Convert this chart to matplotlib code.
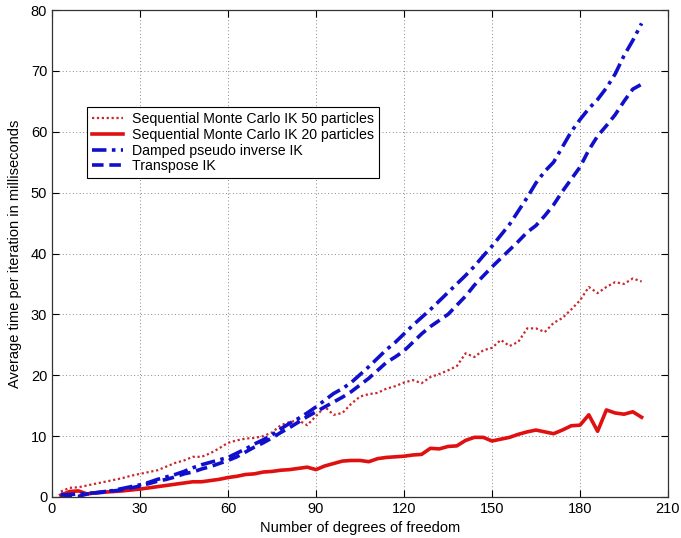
import matplotlib
matplotlib.use("Agg")
import matplotlib.pyplot as plt

plt.rcParams['font.family'] = ['Liberation Sans', 'DejaVu Sans']

dof = list(range(3, 202, 3))

smc50 = [0.9, 1.5, 1.6, 1.9, 2.2, 2.5, 2.8, 3.1, 3.5, 3.8,
         4.1, 4.4, 5.0, 5.6, 6.0, 6.6, 6.6, 7.2, 8.0, 8.9,
         9.3, 9.6, 9.7, 10.0, 10.6, 11.8, 12.3, 12.6, 11.8, 13.3,
         14.8, 13.5, 13.8, 15.3, 16.5, 16.9, 17.1, 17.8, 18.2, 18.8,
         19.2, 18.7, 19.7, 20.2, 20.8, 21.5, 23.6, 23.0, 24.1, 24.5,
         25.8, 24.8, 25.5, 27.7, 27.7, 27.1, 28.6, 29.4, 30.8, 32.3,
         34.5, 33.5, 34.5, 35.3, 35.0, 35.9, 35.4]

smc20 = [0.3, 0.9, 1.0, 0.5, 0.7, 0.8, 0.9, 1.0, 1.15, 1.3,
         1.5, 1.7, 1.9, 2.1, 2.3, 2.5, 2.5, 2.7, 2.9, 3.2,
         3.4, 3.7, 3.8, 4.1, 4.2, 4.4, 4.5, 4.7, 4.9, 4.5,
         5.1, 5.5, 5.9, 6.0, 6.0, 5.8, 6.3, 6.5, 6.6, 6.7,
         6.9, 7.0, 8.0, 7.9, 8.3, 8.4, 9.3, 9.8, 9.8, 9.2,
         9.5, 9.8, 10.3, 10.7, 11.0, 10.7, 10.4, 11.0, 11.7, 11.8,
         13.5, 10.8, 14.3, 13.8, 13.6, 14.0, 13.1]

damped = [0.3, 0.4, 0.5, 0.6, 0.7, 0.8, 1.1, 1.4, 1.7, 2.0,
          2.4, 2.9, 3.3, 3.7, 4.2, 4.8, 5.3, 5.7, 6.1, 6.5,
          7.2, 7.9, 8.7, 9.4, 10.2, 11.2, 12.1, 12.9, 13.8, 14.8,
          15.9, 17.0, 17.8, 18.8, 20.1, 21.4, 22.8, 24.2, 25.4, 26.8,
          28.2, 29.5, 30.8, 32.2, 33.6, 35.0, 36.4, 37.9, 39.6, 41.2,
          43.0, 44.8, 47.0, 49.2, 51.6, 53.5, 55.0, 57.5, 60.0, 62.0,
          63.8, 65.3, 67.2, 69.5, 72.5, 75.0, 77.8]

transpose = [0.5, 0.1, 0.1, 0.5, 0.7, 0.9, 1.0, 1.2, 1.5, 1.8,
             2.2, 2.6, 2.9, 3.3, 3.8, 4.1, 4.6, 5.0, 5.5, 6.0,
             6.6, 7.4, 8.2, 8.9, 9.7, 10.6, 11.4, 12.3, 13.2, 14.0,
             14.8, 15.6, 16.4, 17.3, 18.4, 19.5, 20.8, 22.1, 23.0, 24.0,
             25.4, 26.8, 28.0, 29.0, 30.0, 31.5, 33.0, 34.8, 36.3, 37.8,
             39.2, 40.6, 42.0, 43.5, 44.6, 46.2, 48.0, 50.2, 52.2, 54.2,
             57.0, 59.3, 61.0, 62.8, 65.0, 67.0, 67.8]

labels = ["Sequential Monte Carlo IK 50 particles",
          "Sequential Monte Carlo IK 20 particles",
          "Damped pseudo inverse IK",
          "Transpose IK"]

xticks = [0, 30, 60, 90, 120, 150, 180, 210]
yticks = [0, 10, 20, 30, 40, 50, 60, 70, 80]

fig = plt.figure(figsize=(6.81, 5.38), dpi=100)
ax = fig.add_axes([52/681, 41/538, 616/681, 487/538])

ax.plot(dof, smc50, linestyle=(0, (1, 1.2)), color='#c8282d', lw=1.6, label=labels[0])
ax.plot(dof, smc20, linestyle='-', color='#e01010', lw=2.6, label=labels[1])
ax.plot(dof, damped, linestyle=(0, (4, 1.5, 1, 1.5)), color='#1010cc', lw=2.6, label=labels[2])
ax.plot(dof, transpose, linestyle=(0, (3.2, 1.6)), color='#1010cc', lw=2.6, label=labels[3])

ax.set_xlim(0, 210)
ax.set_ylim(0, 80)
ax.set_xticks(xticks)
ax.set_yticks(yticks)
ax.tick_params(direction='in', top=True, right=True, labelsize=10.5, length=5, width=0.8)
ax.grid(True, linestyle=(0, (1, 2.5)), color='#888888', lw=0.7)
for s in ax.spines.values():
    s.set_color('#333333')
    s.set_linewidth(0.9)

ax.set_xlabel("Number of degrees of freedom", fontsize=10.5, labelpad=4)
ax.set_ylabel("Average time per iteration in milliseconds", fontsize=10.5, labelpad=6)

leg = ax.legend(loc='upper left', bbox_to_anchor=(0.057, 0.80), fontsize=10.2,
                frameon=True, fancybox=False, framealpha=1, edgecolor='black',
                handlelength=2.2, handletextpad=0.6, borderpad=0.35, labelspacing=0.12,
                borderaxespad=0)
leg.get_frame().set_linewidth(0.8)

fig.savefig("out.png", dpi=100)
